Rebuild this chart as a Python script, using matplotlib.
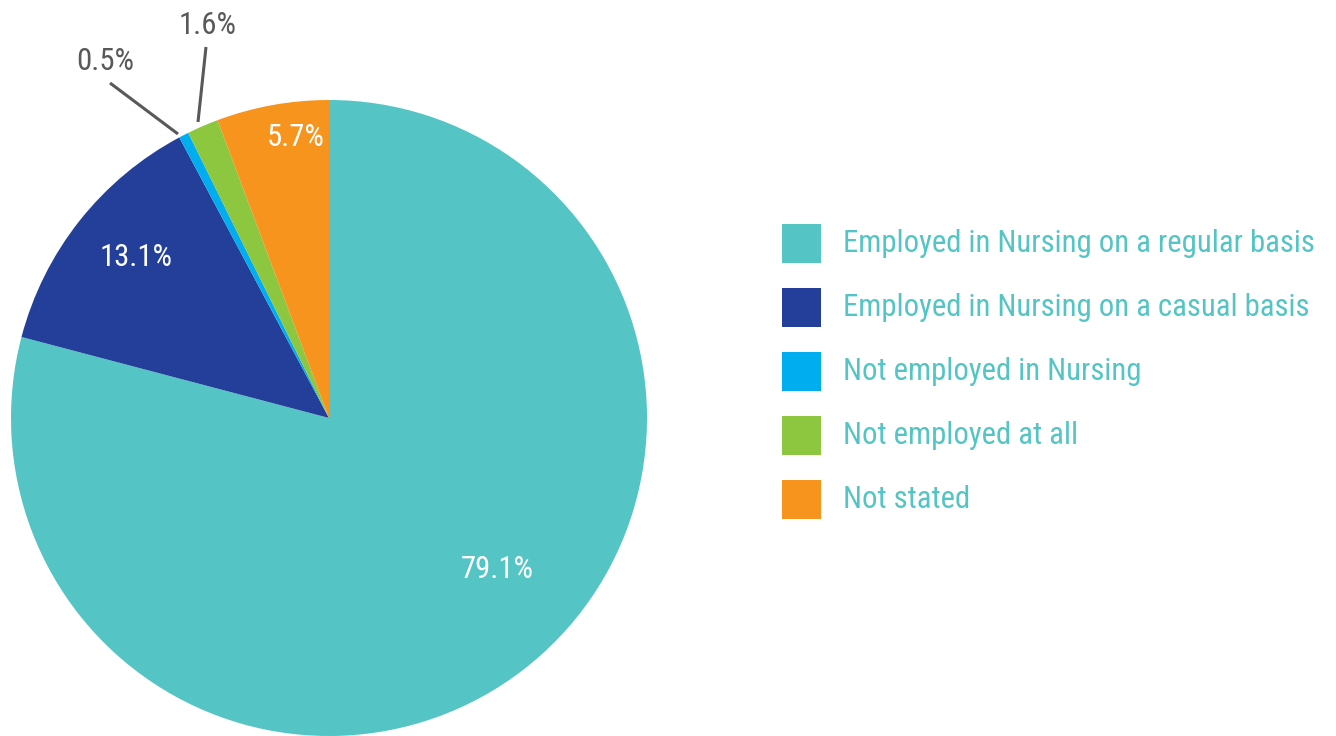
import matplotlib
matplotlib.use("Agg")
import matplotlib.pyplot as plt
from matplotlib.patches import Rectangle
from matplotlib import font_manager

categories = [
    "Employed in Nursing on a regular basis",
    "Employed in Nursing on a casual basis",
    "Not employed in Nursing",
    "Not employed at all",
    "Not stated",
]
values = [79.1, 13.1, 0.5, 1.6, 5.7]
labels = ["79.1%", "13.1%", "0.5%", "1.6%", "5.7%"]
colors = ["#55C4C4", "#233F99", "#00AEEF", "#8DC63F", "#F7941D"]

names = {f.name for f in font_manager.fontManager.ttflist}
fam = "DejaVu Sans"
for cand in ["Roboto Condensed", "Open Sans Condensed", "Liberation Sans Narrow"]:
    if cand in names:
        fam = cand
        break
plt.rcParams["font.family"] = [fam, "DejaVu Sans"]
plt.rcParams["font.stretch"] = "condensed"

W, H = 1336, 736
fig = plt.figure(figsize=(W / 100, H / 100), dpi=100)
fig.patch.set_facecolor("white")
renderer = fig.canvas.get_renderer()

# fit font size so the longest legend label spans ~475 px
probe = fig.text(0, 0, categories[0], fontsize=23)
wpx = probe.get_window_extent(renderer).width
probe.remove()
fs = min(23, 23 * 475 / wpx)

cx, cy, R = 329, 418, 318
ax = fig.add_axes([(cx - R) / W, (H - cy - R) / H, 2 * R / W, 2 * R / H])
wedges, _ = ax.pie(values, colors=colors, startangle=90, counterclock=False,
                   radius=1, wedgeprops=dict(linewidth=0))
ax.set_xlim(-1, 1)
ax.set_ylim(-1, 1)
ax.set_aspect("equal")
ax.axis("off")

def d(px, py):
    return ((px - cx) / R, (cy - py) / R)

# inside labels
ax.text(*d(497, 570), labels[0], color="white", fontsize=fs, ha="center", va="center")
ax.text(*d(136, 258), labels[1], color="white", fontsize=fs, ha="center", va="center")
ax.text(*d(296, 137), labels[4], color="white", fontsize=fs, ha="center", va="center")
# outside labels with leader lines
grey = "#58595B"
ax.text(*d(105, 62), labels[2], color=grey, fontsize=fs, ha="center", va="center", clip_on=False)
ax.text(*d(208, 25), labels[3], color=grey, fontsize=fs, ha="center", va="center", clip_on=False)
for (x0, y0), (x1, y1) in [((110, 83), (178, 134)), ((206, 47), (198, 122))]:
    a, b = d(x0, y0)
    c, e = d(x1, y1)
    ax.plot([a, c], [b, e], color=grey, lw=2.2, clip_on=False, solid_capstyle="butt")

# legend
sq = 39
for i, (cat, col) in enumerate(zip(categories, colors)):
    yc = 243 + i * 64
    fig.patches.append(Rectangle((782 / W, (H - yc - sq / 2) / H), sq / W, sq / H,
                                 transform=fig.transFigure, facecolor=col, edgecolor="none"))
    fig.text(843 / W, (H - yc) / H, cat, color="#55C4C4", fontsize=fs,
             ha="left", va="center")

fig.savefig("out.png", dpi=100, facecolor="white")
